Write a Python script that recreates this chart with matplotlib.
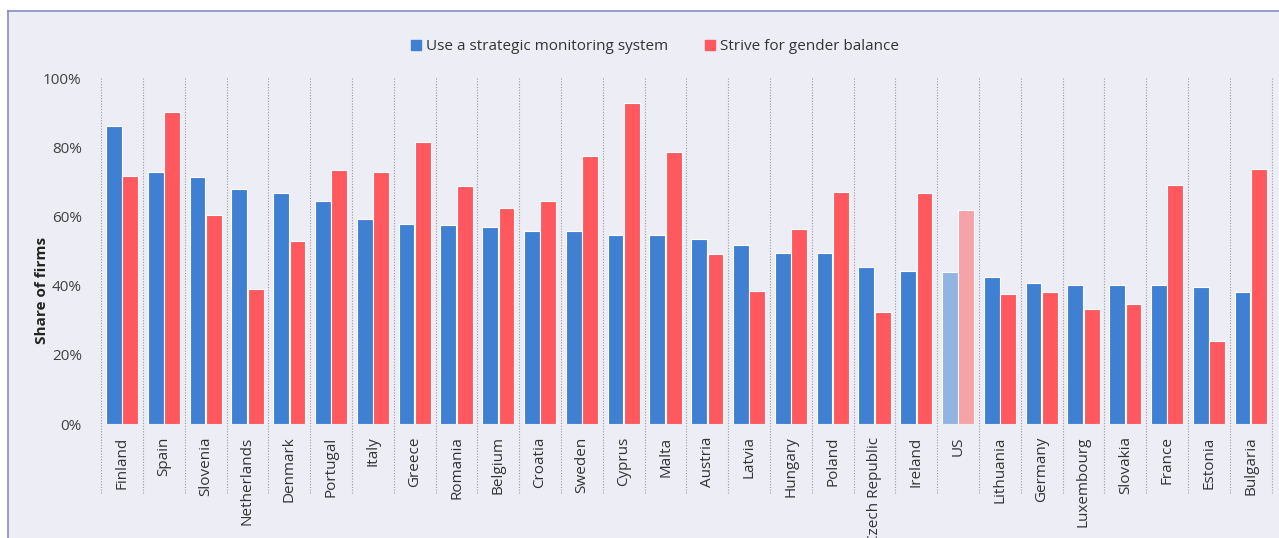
import numpy as np
import matplotlib
matplotlib.use("Agg")
import matplotlib.pyplot as plt
from matplotlib.lines import Line2D
from matplotlib.patches import Rectangle, Patch

plt.rcParams['font.family'] = ['Open Sans', 'DejaVu Sans']

# Share of firms (%) per country
countries = ["Finland", "Spain", "Slovenia", "Netherlands", "Denmark", "Portugal", "Italy",
             "Greece", "Romania", "Belgium", "Croatia", "Sweden", "Cyprus", "Malta",
             "Austria", "Latvia", "Hungary", "Poland", "Czech Republic", "Ireland", "US",
             "Lithuania", "Germany", "Luxembourg", "Slovakia", "France", "Estonia", "Bulgaria"]
monitoring = [86.2, 72.8, 71.3, 67.9, 66.7, 64.4, 59.3, 57.8, 57.4, 57.0, 55.8, 55.7, 54.7, 54.6,
              53.6, 51.8, 49.4, 49.3, 45.5, 44.2, 44.0, 42.6, 40.8, 40.3, 40.1, 40.1, 39.7, 38.2]
gender = [71.8, 90.1, 60.4, 38.9, 52.8, 73.4, 72.9, 81.6, 68.7, 62.5, 64.4, 77.4, 92.7, 78.5,
          49.2, 38.4, 56.4, 67.1, 32.5, 66.8, 61.8, 37.5, 38.2, 33.2, 34.6, 69.0, 23.9, 73.8]
highlight = "US"

bg = "#EDEDF5"
blue, red = "#3F80D2", "#FF585E"
blue_lt, red_lt = "#92B4E1", "#F5A2A8"

fig = plt.figure(figsize=(12.79, 5.38), dpi=100, facecolor="white")

# panel background with top/left border
fig.patches.append(Rectangle((8 / 1279, 0), 1, 1 - 11 / 538, transform=fig.transFigure,
                             facecolor=bg, edgecolor="none", zorder=-10))
fig.lines.append(Line2D([8 / 1279, 1], [1 - 11 / 538] * 2, transform=fig.transFigure,
                        color="#8A8AC8", lw=1.2, zorder=-5))
fig.lines.append(Line2D([8 / 1279] * 2, [0, 1 - 11 / 538], transform=fig.transFigure,
                        color="#8A8AC8", lw=1.2, zorder=-5))

ax = fig.add_axes([101.2 / 1279, 114 / 538, 1170.4 / 1279, 346 / 538])
ax.set_facecolor("none")

x = np.arange(len(countries))
w = 0.38
c1 = [blue_lt if c == highlight else blue for c in countries]
c2 = [red_lt if c == highlight else red for c in countries]
ax.bar(x - 0.195, monitoring, w, color=c1, edgecolor="white", linewidth=0.8, zorder=3)
ax.bar(x + 0.195, gender, w, color=c2, edgecolor="white", linewidth=0.8, zorder=3)

# dotted separators between countries, running down into the label area
for xs in np.arange(-0.5, len(countries), 1.0):
    ax.plot([xs, xs], [-20, 100], color="#9A9A9A", lw=0.8, ls=(0, (1, 1.5)),
            clip_on=False, zorder=1)

ax.set_xlim(-0.5, len(countries) - 0.5)
ax.set_ylim(0, 100)
ax.set_yticks(range(0, 101, 20))
ax.set_yticklabels([f"{v}%" for v in range(0, 101, 20)], fontsize=11, color="#404040")
ax.set_xticks(x)
ax.set_xticklabels(countries, rotation=90, fontsize=11, color="#333333")
ax.tick_params(axis="y", length=0, pad=14)
ax.tick_params(axis="x", length=0, pad=9)
for s in ax.spines.values():
    s.set_visible(False)

fig.text(42 / 1279, 1 - 290 / 538, "Share of firms", rotation=90, fontsize=11,
         fontweight="bold", color="#222222", ha="center", va="center")

handles = [Patch(color=blue), Patch(color=red)]
fig.legend(handles, ["Use a strategic monitoring system", "Strive for gender balance"],
           loc="center", bbox_to_anchor=(655 / 1279, 1 - 47 / 538), ncol=2, frameon=False,
           fontsize=11, handlelength=0.65, handleheight=0.65, handletextpad=0.35,
           columnspacing=2.4, labelcolor="#333333")

fig.savefig("out.png", dpi=100, facecolor=fig.get_facecolor())
